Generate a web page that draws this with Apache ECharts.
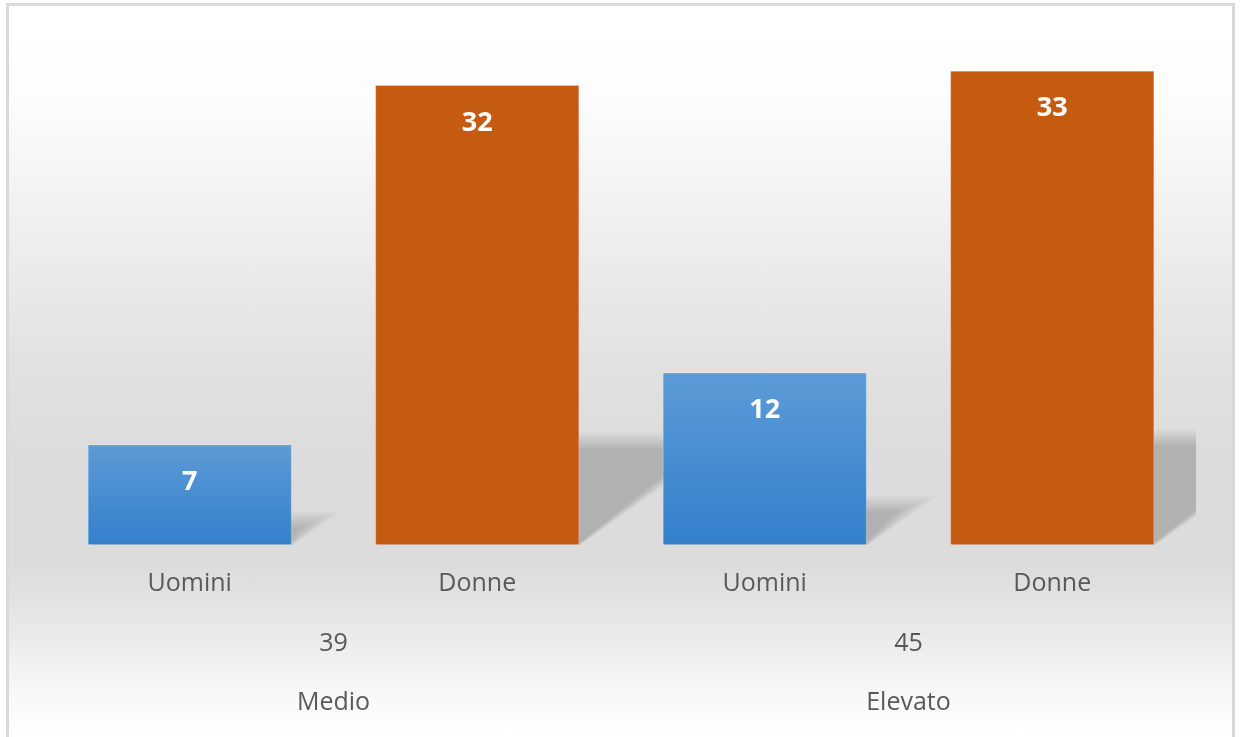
<!DOCTYPE html>
<html>
<head>
<meta charset="utf-8">
<script src="https://cdn.jsdelivr.net/npm/echarts@6/dist/echarts.min.js"></script>
<style>
  html, body { margin: 0; padding: 0; background: #ffffff; overflow: hidden; }
  #frame {
    position: absolute; left: 6px; top: 3px; width: 1229px; height: 800px;
    box-sizing: border-box; border: 3px solid #d9d9d9; border-bottom: none;
    background: linear-gradient(to bottom,
      #ffffff 0px, #fdfdfd 90px, #efefef 220px, #e1e1e1 360px,
      #dcdcdc 450px, #dcdcdc 560px, #e6e6e6 610px, #f4f4f4 670px,
      #fefefe 720px, #ffffff 740px);
  }
  #chart { position: absolute; left: 0; top: 0; width: 1243px; height: 737px; }
</style>
</head>
<body>
<div id="frame"></div>
<div id="chart"></div>
<script>
// ---- data ----
const categories = ['Uomini', 'Donne', 'Uomini', 'Donne'];
const values = [7, 32, 12, 33];
const totalLabels = ['39', '45'];
const groupLabels = ['Medio', 'Elevato'];

const FONT = 'Open Sans';
const TEXT = '#595959';
const BLUE = new echarts.graphic.LinearGradient(0, 0, 0, 1, [
  { offset: 0, color: '#5c9bd6' },
  { offset: 1, color: '#3380cb' }
]);
const ORANGE = '#c55a11';

const chart = echarts.init(document.getElementById('chart'), null, { renderer: 'canvas' });

const gridRect = { left: 46, right: 47, top: 42, bottom: 192 };
const barGap = 0.29;

const labelAxis = (data, margin, gi) => ({
  type: 'category', gridIndex: gi, data: data, boundaryGap: true,
  axisLine: { show: false }, axisTick: { show: false }, splitLine: { show: false },
  axisLabel: { margin: margin, fontSize: 25, lineHeight: 26, color: TEXT, fontFamily: FONT }
});

const option = {
  backgroundColor: 'transparent',
  animation: false,
  grid: [
    Object.assign({}, gridRect),
    Object.assign({}, gridRect),
    Object.assign({}, gridRect)
  ],
  xAxis: [
    labelAxis(categories, 26, 0),
    labelAxis(totalLabels, 86, 1),
    labelAxis(groupLabels, 145, 2)
  ],
  yAxis: [
    { type: 'value', gridIndex: 0, min: 0, max: 35, show: false },
    { type: 'value', gridIndex: 1, min: 0, max: 35, show: false },
    { type: 'value', gridIndex: 2, min: 0, max: 35, show: false }
  ],
  series: [
    {
      type: 'custom',
      xAxisIndex: 0, yAxisIndex: 0,
      clip: true,
      z: 1,
      silent: true,
      data: values.map((v, i) => [i, v]),
      encode: { x: 0, y: 1 },
      renderItem: function (params, api) {
        const idx = api.value(0), v = api.value(1);
        const top = api.coord([idx, v]);
        const base = api.coord([idx, 0]);
        const band = api.size([1, 0])[0];
        const bw = band * (1 - barGap);
        const xL = base[0] - bw / 2, xR = base[0] + bw / 2;
        const H = base[1] - top[1];
        const h = 0.22 * H + 12;
        const dx = 1.4 * h;
        const y0 = base[1] + 1;
        const layers = 10;
        const children = [];
        for (let k = 0; k < layers; k++) {
          const hk = h - k * 1.8;
          const ck = k * 2.2;
          children.push({
            type: 'polygon',
            shape: { points: [
              [xL, y0],
              [xR - ck * 0.2, y0],
              [xR + dx * (hk / h) - ck, y0 - hk],
              [xL + dx * (hk / h), y0 - hk]
            ] },
            style: { fill: 'rgba(0,0,0,0.022)' }
          });
        }
        return { type: 'group', children: children };
      }
    },
    {
      type: 'bar',
      xAxisIndex: 0, yAxisIndex: 0,
      z: 3,
      barCategoryGap: (barGap * 100) + '%',
      data: values.map((v, i) => ({
        value: v,
        itemStyle: {
          color: categories[i] === 'Donne' ? ORANGE : BLUE,
          borderColor: 'rgba(255,255,255,0.22)',
          borderWidth: 1
        }
      })),
      label: {
        show: true,
        position: 'insideTop',
        distance: 25,
        color: '#ffffff',
        fontFamily: FONT,
        fontWeight: 'bold',
        fontSize: 27,
        lineHeight: 26
      }
    }
  ]
};

chart.setOption(option);
</script>
</body>
</html>
